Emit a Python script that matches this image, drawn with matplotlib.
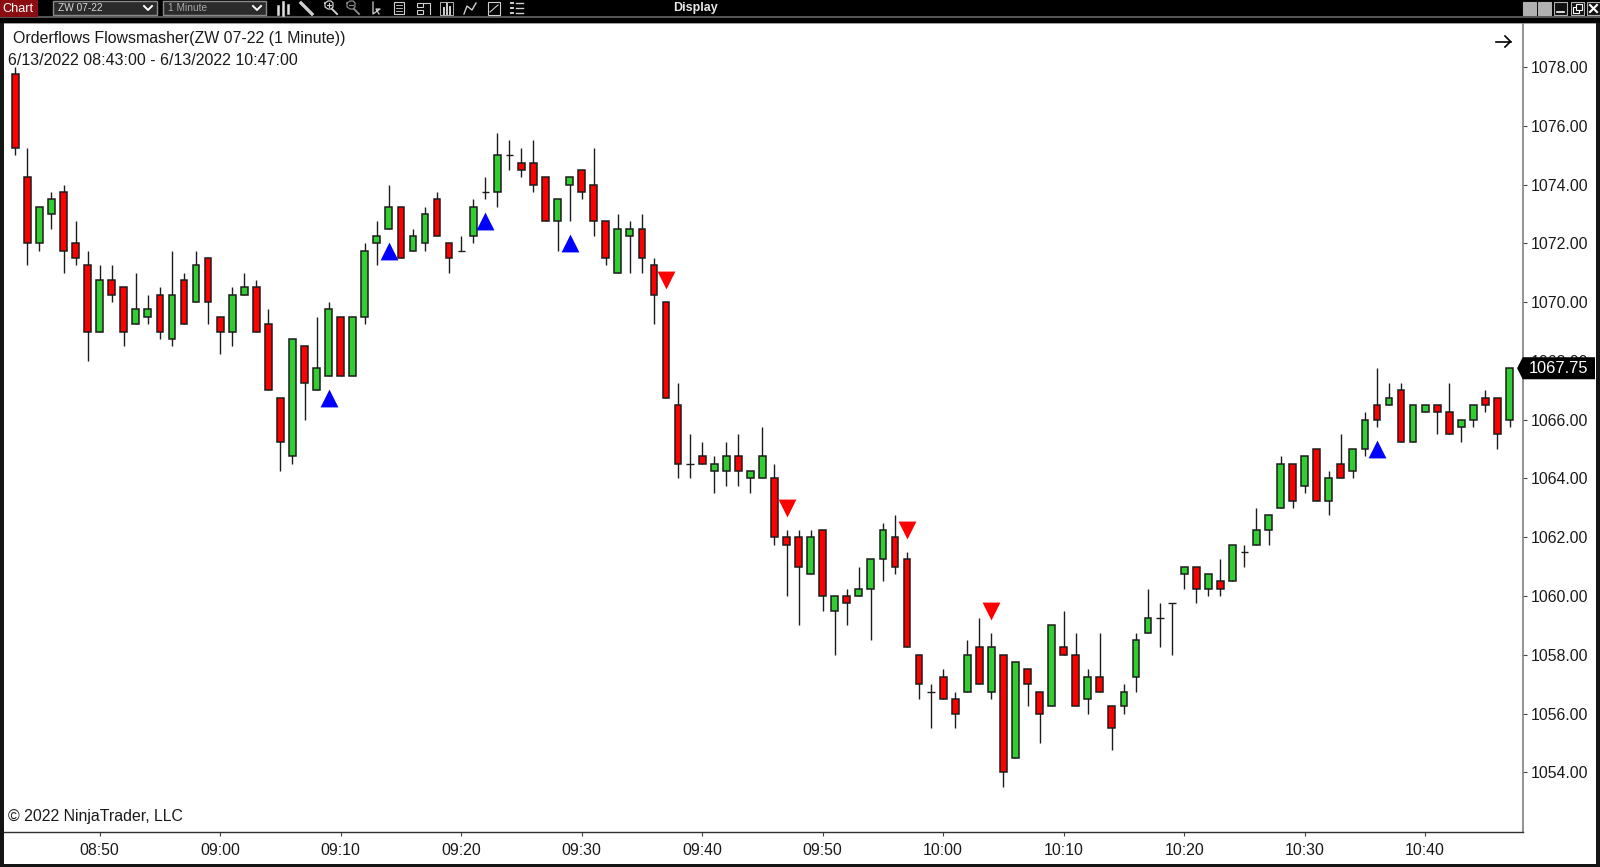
import matplotlib
matplotlib.use("Agg")
import matplotlib.pyplot as plt
from matplotlib.patches import Rectangle, Polygon
from matplotlib.ticker import FixedLocator, FuncFormatter

plt.rcParams['font.family'] = ['Liberation Sans', 'DejaVu Sans']

# --- data: one list per field, one value per 1-minute bar from 08:43 to 10:47 ---
opens = [1077.75,1074.25,1072.0,1073.0,1073.75,1072.0,1071.25,1069.0,1070.75,1070.5,
         1069.25,1069.5,1070.25,1068.75,1070.75,1070.0,1071.5,1069.5,1069.0,1070.25,
         1070.5,1069.25,1066.75,1064.75,1068.5,1067.0,1067.5,1069.5,1067.5,1069.5,
         1072.0,1072.5,1073.25,1071.75,1072.0,1073.5,1072.0,1071.75,1072.25,1073.75,
         1073.75,1075.0,1074.75,1074.75,1074.25,1072.75,1074.0,1074.5,1074.0,1072.75,
         1071.0,1072.25,1072.5,1071.25,1070.0,1066.5,1064.5,1064.75,1064.25,1064.25,
         1064.75,1064.0,1064.0,1064.0,1062.0,1062.0,1060.75,1062.25,1059.5,1060.0,
         1060.0,1060.25,1061.25,1062.0,1061.25,1058.0,1056.75,1057.25,1056.5,1056.75,
         1058.25,1056.75,1058.0,1054.5,1057.5,1056.75,1056.25,1058.25,1058.0,1056.5,
         1057.25,1056.25,1056.25,1057.25,1058.75,1059.25,1059.75,1060.75,1061.0,1060.25,
         1060.5,1060.5,1061.5,1061.75,1062.25,1063.0,1064.5,1063.75,1065.0,1063.25,
         1064.5,1064.25,1065.0,1066.5,1066.5,1067.0,1065.25,1066.25,1066.5,1066.25,
         1065.75,1066.0,1066.75,1066.75,1066.0]
highs = [1078.0,1075.25,1073.25,1073.75,1074.0,1072.75,1071.75,1071.25,1071.25,1070.5,
         1071.0,1070.25,1070.5,1071.75,1071.0,1071.75,1071.5,1069.5,1070.5,1071.0,
         1070.75,1069.75,1066.75,1068.75,1068.5,1069.5,1070.0,1069.5,1069.5,1072.0,
         1072.75,1074.0,1073.25,1072.5,1073.25,1073.75,1072.0,1072.25,1073.5,1074.25,
         1075.75,1075.5,1075.25,1075.5,1074.25,1073.5,1074.25,1074.5,1075.25,1072.75,
         1073.0,1072.75,1073.0,1071.5,1070.0,1067.25,1065.5,1065.25,1064.75,1065.25,
         1065.5,1064.25,1065.75,1064.5,1062.25,1062.25,1062.25,1062.25,1060.0,1060.25,
         1061.0,1061.25,1062.5,1062.75,1061.5,1058.0,1057.0,1057.5,1056.75,1058.5,
         1059.25,1058.75,1058.0,1057.75,1057.5,1056.75,1059.0,1059.5,1058.75,1057.5,
         1058.75,1056.25,1057.0,1058.75,1060.25,1059.75,1059.75,1061.0,1061.0,1060.75,
         1061.25,1061.75,1061.75,1063.0,1062.75,1064.75,1064.5,1064.75,1065.0,1064.25,
         1065.5,1065.0,1066.25,1067.75,1067.25,1067.25,1066.5,1066.5,1066.5,1067.25,
         1066.0,1066.5,1067.0,1066.75,1067.75]
lows = [1075.0,1071.25,1071.75,1072.5,1071.0,1071.25,1068.0,1069.0,1070.0,1068.5,
        1069.25,1069.25,1068.75,1068.5,1069.25,1070.0,1069.25,1068.25,1068.5,1070.25,
        1069.0,1067.0,1064.25,1064.5,1066.0,1067.0,1067.5,1067.5,1067.5,1069.25,
        1071.25,1072.5,1071.5,1071.75,1071.75,1072.25,1071.0,1071.75,1072.0,1073.5,
        1073.25,1074.5,1074.25,1073.75,1072.75,1071.75,1072.75,1073.5,1072.25,1071.25,
        1071.0,1071.0,1071.0,1069.25,1066.75,1064.0,1064.0,1064.5,1063.5,1063.75,
        1063.75,1063.5,1064.0,1061.75,1060.0,1059.0,1060.75,1059.5,1058.0,1059.0,
        1060.0,1058.5,1060.5,1060.75,1058.25,1056.5,1055.5,1056.5,1055.5,1056.75,
        1057.0,1056.5,1053.5,1054.5,1056.25,1055.0,1056.25,1058.0,1056.25,1056.0,
        1056.75,1054.75,1056.0,1056.75,1058.75,1058.25,1058.0,1060.25,1059.75,1060.0,
        1060.0,1060.5,1061.0,1061.75,1061.75,1063.0,1063.0,1063.5,1063.25,1062.75,
        1064.0,1064.0,1064.75,1065.75,1066.5,1065.25,1065.25,1066.25,1065.5,1065.5,
        1065.25,1065.75,1066.25,1065.0,1065.75]
closes = [1075.25,1072.0,1073.25,1073.5,1071.75,1071.5,1069.0,1070.75,1070.25,1069.0,
          1069.75,1069.75,1069.0,1070.25,1069.25,1071.25,1070.0,1069.0,1070.25,1070.5,
          1069.0,1067.0,1065.25,1068.75,1067.25,1067.75,1069.75,1067.5,1069.5,1071.75,
          1072.25,1073.25,1071.5,1072.25,1073.0,1072.25,1071.5,1071.75,1073.25,1073.75,
          1075.0,1075.0,1074.5,1074.0,1072.75,1073.5,1074.25,1073.75,1072.75,1071.5,
          1072.5,1072.5,1071.5,1070.25,1066.75,1064.5,1064.5,1064.5,1064.5,1064.75,
          1064.25,1064.25,1064.75,1062.0,1061.75,1061.0,1062.0,1060.0,1060.0,1059.75,
          1060.25,1061.25,1062.25,1061.0,1058.25,1057.0,1056.75,1056.5,1056.0,1058.0,
          1057.0,1058.25,1054.0,1057.75,1057.0,1056.0,1059.0,1058.0,1056.25,1057.25,
          1056.75,1055.5,1056.75,1058.5,1059.25,1059.25,1059.75,1061.0,1060.25,1060.75,
          1060.25,1061.75,1061.5,1062.25,1062.75,1064.5,1063.25,1064.75,1063.25,1064.0,
          1064.0,1065.0,1066.0,1066.0,1066.75,1065.25,1066.5,1066.5,1066.25,1065.5,
          1066.0,1066.5,1066.5,1065.5,1067.75]
up_signal_bars = [26, 31, 39, 46, 113]
up_signal_prices = [1066.75, 1071.75, 1072.75, 1072.0, 1065.0]
down_signal_bars = [54, 64, 74, 81]
down_signal_prices = [1070.75, 1063.0, 1062.25, 1059.5]
time_tick_bars = [7, 17, 27, 37, 47, 57, 67, 77, 87, 97, 107, 117]
time_tick_labels = ['08:50', '09:00', '09:10', '09:20', '09:30', '09:40',
                    '09:50', '10:00', '10:10', '10:20', '10:30', '10:40']
price_ticks = [1054, 1056, 1058, 1060, 1062, 1064, 1066, 1068, 1070, 1072, 1074, 1076, 1078]
last_price = 1067.75

W, H = 1600, 867
fig = plt.figure(figsize=(W / 100, H / 100), dpi=100, facecolor='#141414')

def px_rect(x0, y0, x1, y1, **kw):
    fig.add_artist(Rectangle((x0 / W, 1 - y1 / H), (x1 - x0) / W, (y1 - y0) / H,
                             transform=fig.transFigure, **kw))

def px_text(x, y, s, **kw):
    fig.text(x / W, 1 - y / H, s, **kw)

def px_line(xs, ys, color='#cfcfcf', lw=1.0):
    fig.add_artist(plt.Line2D([x / W for x in xs], [1 - y / H for y in ys],
                              transform=fig.transFigure, color=color, lw=lw))

# white chart panel (price and time strips included)
px_rect(3.5, 23.5, 1596, 864, facecolor='white', edgecolor='none', zorder=0)
# top toolbar
px_rect(0, 0, 1600, 23, facecolor='black', edgecolor='none', zorder=0)
px_rect(0, 16.5, 1600, 18, facecolor='#555555', edgecolor='none', zorder=0)
px_rect(3.5, 23, 1596, 24, facecolor='#a0a0a0', edgecolor='none', zorder=0)
px_rect(0, 0, 38, 16.5, facecolor='#8b0d12', edgecolor='none', zorder=1)
px_text(18, 8.5, 'Chart', color='white', fontsize=9.2, ha='center', va='center')
for x0, x1, label, tc in [(53, 157, 'ZW 07-22', '#d8d8d8'), (163, 266, '1 Minute', '#a8a8a8')]:
    px_rect(x0, 1, x1, 15, facecolor='#2b2b2b', edgecolor='#8a8a8a', lw=1, zorder=1)
    px_text(x0 + 5, 8, label, color=tc, fontsize=7.3, ha='left', va='center')
    px_line([x1 - 13, x1 - 9, x1 - 5], [6, 10, 6], color='white', lw=1.4)
# toolbar icons
for x, y0, y1 in [(278, 6, 14), (283, 2, 15), (288, 5, 13)]:
    px_line([x, x], [y0, y1], color='#e0e0e0', lw=1.8)
px_line([301, 312], [3, 14], lw=2.4)
for cx, plus in ((329, True), (351, False)):
    col = '#cfcfcf' if plus else '#8a8a8a'
    px_line([cx - 4, cx - 1, cx + 2, cx + 4, cx + 4, cx + 2, cx - 1, cx - 4, cx - 4],
            [3, 1, 1, 3, 7, 9, 9, 7, 3], color=col, lw=0.9)
    px_line([cx + 3, cx + 8], [9, 14], color=col, lw=1.4)
    px_line([cx - 2, cx + 2], [5, 5], color=col, lw=0.8)
    if plus:
        px_line([cx, cx], [3, 7], color=col, lw=0.8)
px_line([373, 373, 380, 376, 379], [2, 14, 9, 9, 14], lw=0.9)
px_rect(394, 2, 404, 14, facecolor='none', edgecolor='#cfcfcf', lw=0.8, zorder=2)
for y in (5, 8, 11):
    px_line([396, 402], [y, y], lw=0.6)
px_rect(417, 3, 423, 7, facecolor='none', edgecolor='#cfcfcf', lw=0.8, zorder=2)
px_rect(417, 10, 423, 14, facecolor='none', edgecolor='#cfcfcf', lw=0.8, zorder=2)
px_line([423, 430, 430], [3, 3, 14], lw=0.8)
px_rect(440, 2, 453, 15, facecolor='none', edgecolor='#cfcfcf', lw=0.6, zorder=2)
for x, y in [(444, 8), (447, 4), (450, 7)]:
    px_line([x, x], [y, 14], lw=1.4)
px_line([464, 467, 472, 476], [14, 6, 10, 3], lw=1.0)
px_rect(488, 2, 500, 15, facecolor='none', edgecolor='#cfcfcf', lw=0.8, zorder=2)
px_line([490, 498], [12, 5], lw=0.8)
for y in (3, 8, 13):
    px_line([511, 513], [y, y], lw=1.4)
    px_line([516, 523], [y, y], lw=1.0)
px_text(695, 8, 'Display', color='#e8e8e8', fontsize=9, fontweight='bold', ha='center', va='center')
# window buttons
for x0, fc in [(1523, '#b0b0b0'), (1538, '#b0b0b0'), (1554, '#111111'), (1571, '#111111'), (1587, '#111111')]:
    px_rect(x0, 2, x0 + 13, 15, facecolor=fc, edgecolor='#b0b0b0', lw=0.8, zorder=1)
px_line([1557, 1564], [12, 12], color='white', lw=1.2)
for x0, y0 in [(1573, 7), (1576, 4)]:
    px_rect(x0, y0, x0 + 6, y0 + 6, facecolor='#111111', edgecolor='white', lw=0.8, zorder=2)
px_line([1590, 1597], [5, 12], color='white', lw=1.5)
px_line([1597, 1590], [5, 12], color='white', lw=1.5)

# chart axes
left, right, top, bottom = 4.0, 1522.7, 24.0, 831.7
ax = fig.add_axes([left / W, 1 - bottom / H, (right - left) / W, (bottom - top) / H], facecolor='white')
ax.set_xlim((left - 15.3) / 12.05, (right - 15.3) / 12.05)
ax.set_ylim(1078 - (bottom - 67) / 29.39, 1078 + (67 - top) / 29.39)

indices = list(range(len(opens)))
ax.vlines(indices, lows, highs, color='#1c1c1c', lw=1.0, zorder=2)
for i, o, c in zip(indices, opens, closes):
    if o == c:
        ax.hlines(o, i - 0.3, i + 0.3, color='#1c1c1c', lw=1.0, zorder=3)
        continue
    ax.bar(i, abs(c - o), bottom=min(o, c), width=0.56,
           color='#32cd32' if c > o else '#ff0000', edgecolor='#1c1c1c', lw=1.1, zorder=3)
ax.scatter(up_signal_bars, up_signal_prices, marker='^', s=165, color='#0000ff', lw=0, zorder=4)
ax.scatter(down_signal_bars, down_signal_prices, marker='v', s=165, color='#ff0000', lw=0, zorder=4)

ax.yaxis.tick_right()
ax.yaxis.set_major_locator(FixedLocator(price_ticks))
ax.yaxis.set_major_formatter(FuncFormatter(lambda v, _: f'{v:.2f}'))
ax.set_xticks(time_tick_bars, time_tick_labels)
ax.tick_params(axis='y', length=3, width=0.8, color='#444444', labelsize=11.4, labelcolor='#1a1a1a', pad=2.6)
ax.tick_params(axis='x', length=3, width=0.8, color='#444444', labelsize=11.4, labelcolor='#1a1a1a', pad=5.4)
ax.spines['top'].set_visible(False)
ax.spines['left'].set_visible(False)
ax.spines['right'].set_color('#808080')
ax.spines['right'].set_linewidth(1.2)
ax.spines['bottom'].set_color('#303030')
ax.spines['bottom'].set_linewidth(1.0)

# last-price flag, placed through the axis scale
yf = ax.get_yaxis_transform()
ax.add_patch(Polygon([(0.9963, last_price), (1.0, last_price + 0.375), (1.0476, last_price + 0.375),
                      (1.0476, last_price - 0.375), (1.0, last_price - 0.375)],
                     closed=True, transform=yf, facecolor='black', edgecolor='none',
                     clip_on=False, zorder=6))
ax.text(1.0239, last_price, f'{last_price:.2f}', transform=yf, color='white', fontsize=11.8,
        ha='center', va='center', zorder=7, clip_on=False)

# chart captions
px_text(13, 38.5, 'Orderflows Flowsmasher(ZW 07-22 (1 Minute))', color='#1a1a1a', fontsize=11.45, ha='left', va='center')
px_text(8, 60.8, '6/13/2022 08:43:00 - 6/13/2022 10:47:00', color='#1a1a1a', fontsize=11.5, ha='left', va='center')
px_text(8, 817, '\u00a9 2022 NinjaTrader, LLC', color='#1a1a1a', fontsize=11.45, ha='left', va='center')
# navigation arrow
px_line([1496, 1510.5], [41.5, 41.5], color='black', lw=1.2)
px_line([1505, 1510.5, 1505], [36, 41.5, 47], color='black', lw=1.2)

fig.savefig('out.png', dpi=100, facecolor=fig.get_facecolor())
